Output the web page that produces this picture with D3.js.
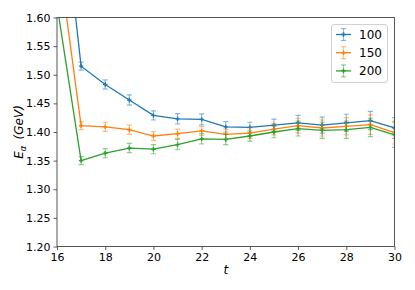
<!DOCTYPE html>
<html><head><meta charset="utf-8">
<script src="https://cdn.jsdelivr.net/npm/d3@7"></script>
<style>body{margin:0;background:#fff}svg{display:block}text{font-family:"DejaVu Sans",sans-serif;fill:#000}</style>
</head><body><svg id="c" width="415" height="290"></svg>
<script>
const tValues = [16,17,18,19,20,21,22,23,24,25,26,27,28,29,30];
const seriesNames = ["100","150","200"];
const colors = ["#1f77b4","#ff7f0e","#2ca02c"];
const e100 = [1.892,1.515,1.483,1.456,1.429,1.423,1.422,1.409,1.408,1.412,1.416,1.412,1.416,1.420,1.407];
const err100 = [0.010,0.007,0.008,0.009,0.008,0.009,0.0095,0.009,0.009,0.0105,0.013,0.014,0.015,0.016,0.018];
const e150 = [1.726,1.411,1.409,1.404,1.393,1.397,1.402,1.396,1.398,1.405,1.411,1.407,1.410,1.413,1.399];
const err150 = [0.010,0.007,0.008,0.008,0.0075,0.008,0.008,0.009,0.009,0.010,0.013,0.014,0.015,0.017,0.020];
const e200 = [1.622,1.350,1.363,1.372,1.370,1.378,1.388,1.387,1.393,1.400,1.406,1.403,1.404,1.408,1.395];
const err200 = [0.010,0.007,0.008,0.008,0.008,0.009,0.009,0.009,0.009,0.010,0.013,0.014,0.015,0.016,0.022];
const xTicks = [16,18,20,22,24,26,28,30];
const yTicks = [1.20,1.25,1.30,1.35,1.40,1.45,1.50,1.55,1.60];

const values = [e100,e150,e200], errs = [err100,err150,err200];
const L=57,R=394.5,T=17.5,B=246.5;
const svg = d3.select("#c");
const x = d3.scaleLinear().domain([16,30]).range([L,R]);
const y = d3.scaleLinear().domain([1.20,1.60]).range([B,T]);

svg.append("defs").append("clipPath").attr("id","clip").append("rect")
  .attr("x",L).attr("y",T).attr("width",R-L).attr("height",B-T);

const gx = svg.append("g").attr("transform",`translate(0,${B})`)
  .call(d3.axisBottom(x).tickValues(xTicks).tickFormat(d3.format("d")).tickSizeOuter(0).tickSize(3.5).tickPadding(3));
const gy = svg.append("g").attr("transform",`translate(${L},0)`)
  .call(d3.axisLeft(y).tickValues(yTicks).tickFormat(d3.format(".2f")).tickSizeOuter(0).tickSize(3.5).tickPadding(3));
[gx,gy].forEach(g=>{g.select(".domain").remove();
  g.selectAll("text").style("font-family","DejaVu Sans").style("font-size","11px").attr("fill","#000");
  g.selectAll("line").attr("stroke","#333").attr("stroke-width",0.8);});

const plot = svg.append("g").attr("clip-path","url(#clip)");
values.forEach((vals,i)=>{
  const c = colors[i];
  const pts = tValues.map((t,j)=>({t,v:vals[j],e:errs[i][j]}));
  const g = plot.append("g");
  // error bars
  pts.forEach(p=>{
    const xx = x(p.t), y1=y(p.v-p.e), y2=y(p.v+p.e);
    g.append("line").attr("x1",xx).attr("x2",xx).attr("y1",y1).attr("y2",y2).attr("stroke",c).attr("stroke-opacity",0.5).attr("stroke-width",1.2);
    [y1,y2].forEach(yy=>g.append("line").attr("x1",xx-2.6).attr("x2",xx+2.6).attr("y1",yy).attr("y2",yy).attr("stroke",c).attr("stroke-opacity",0.5).attr("stroke-width",1.2));
  });
  g.append("path").datum(pts).attr("fill","none").attr("stroke",c).attr("stroke-width",1.3)
    .attr("d",d3.line().x(d=>x(d.t)).y(d=>y(d.v)));
  pts.forEach(p=>{
    const xx=x(p.t), yy=y(p.v);
    g.append("path").attr("d",`M${xx-2.2},${yy}H${xx+2.2}M${xx},${yy-2.2}V${yy+2.2}`).attr("stroke",c).attr("stroke-width",1.4);
  });
});

// spines
svg.append("rect").attr("x",L).attr("y",T).attr("width",R-L).attr("height",B-T)
  .attr("fill","none").attr("stroke","#444").attr("stroke-width",0.9);

// axis labels
svg.append("text").attr("x",(L+R)/2).attr("y",274).attr("text-anchor","middle")
  .style("font-size","12px").style("font-style","italic").text("t");
const yl = svg.append("text").attr("transform",`translate(23,${(T+B)/2}) rotate(-90)`).attr("text-anchor","middle")
  .style("font-size","12px").style("font-style","italic");
yl.append("tspan").text("E");
yl.append("tspan").attr("dy",3).style("font-size","8.5px").text("α");
yl.append("tspan").attr("dy",-3).text("\u2009 (GeV)");

// legend
const lg = svg.append("g");
lg.append("rect").attr("x",331.5).attr("y",24.5).attr("width",56).attr("height",58).attr("rx",2.5)
  .attr("fill","#fff").attr("fill-opacity",0.8).attr("stroke","#ccc").attr("stroke-width",0.9);
seriesNames.forEach((n,i)=>{
  const cy = 34.5 + i*18.2, c=colors[i], cx=343.5;
  lg.append("line").attr("x1",336).attr("x2",351).attr("y1",cy).attr("y2",cy).attr("stroke",c).attr("stroke-width",1.3);
  lg.append("line").attr("x1",cx).attr("x2",cx).attr("y1",cy-6).attr("y2",cy+6).attr("stroke",c).attr("stroke-opacity",0.5).attr("stroke-width",1.2);
  [cy-6,cy+6].forEach(yy=>lg.append("line").attr("x1",cx-2.6).attr("x2",cx+2.6).attr("y1",yy).attr("y2",yy).attr("stroke",c).attr("stroke-opacity",0.5).attr("stroke-width",1.2));
  lg.append("path").attr("d",`M${cx-2.2},${cy}H${cx+2.2}M${cx},${cy-2.2}V${cy+2.2}`).attr("stroke",c).attr("stroke-width",1.4);
  lg.append("text").attr("x",359).attr("y",cy+4.3).style("font-size","12px").text(n);
});
</script></body></html>
